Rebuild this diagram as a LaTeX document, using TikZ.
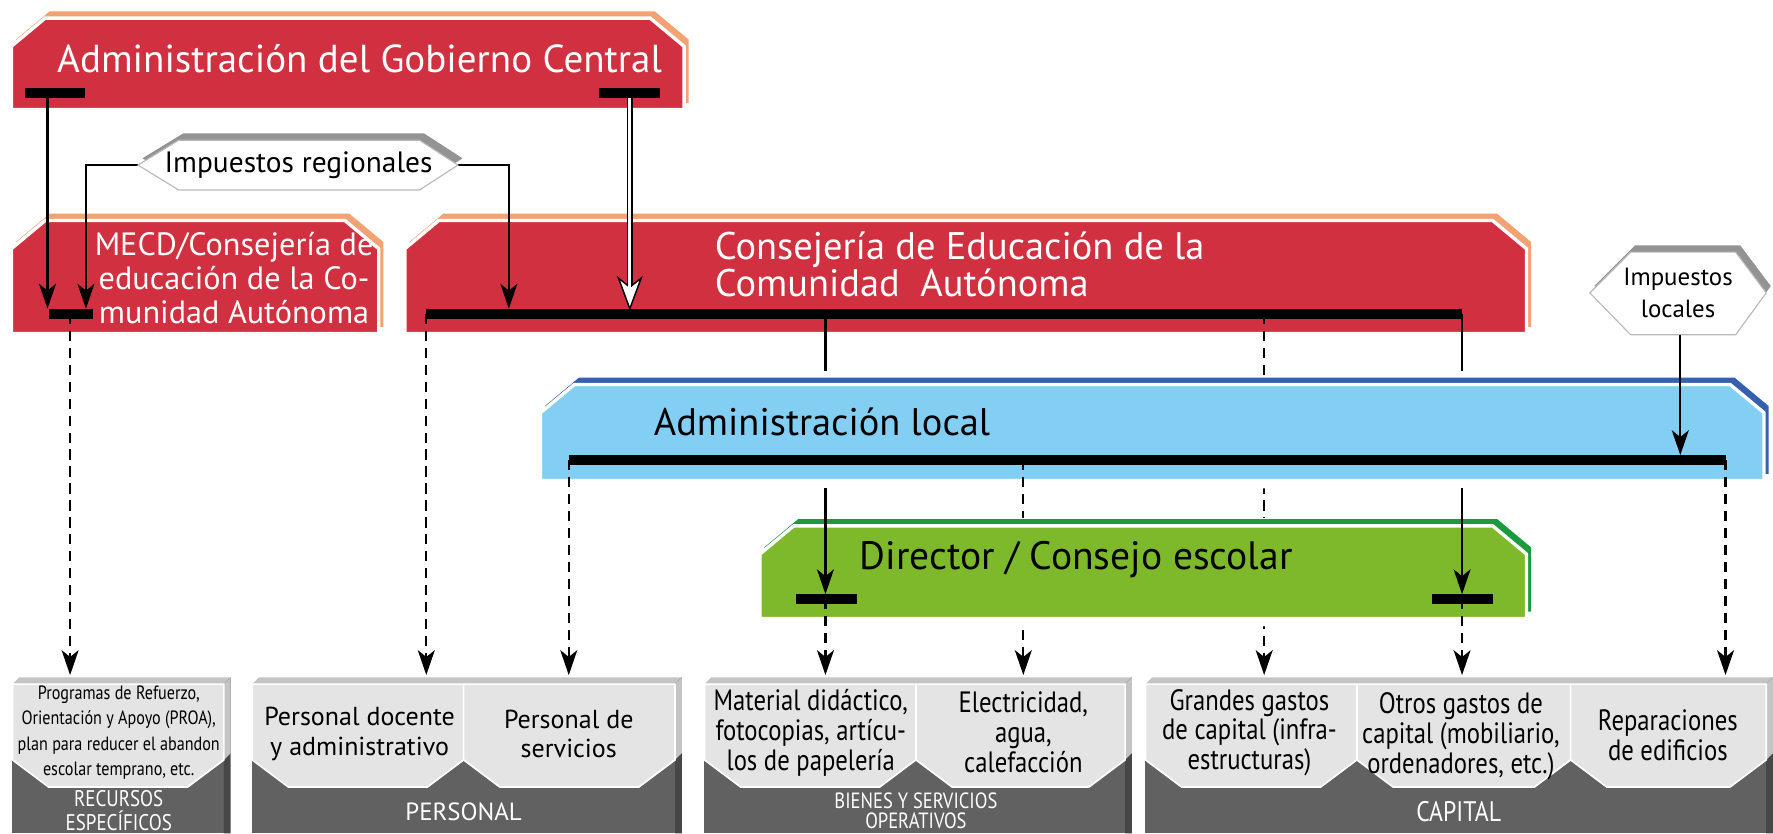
\documentclass[tikz,border=0pt]{standalone}
\usepackage{fontspec}
\setmainfont{PT Sans}
\newfontfamily\narrowfont[FakeStretch=0.84]{PT Sans}
\usetikzlibrary{arrows.meta}

\definecolor{gobred}{HTML}{D13040}
\definecolor{gobedge}{HTML}{F3A273}
\definecolor{locblue}{HTML}{83CFF4}
\definecolor{locedge}{HTML}{3560AD}
\definecolor{dirgreen}{HTML}{7DB92A}
\definecolor{diredge}{HTML}{1C9A3E}
\definecolor{grpdark}{HTML}{616161}
\definecolor{grplight}{HTML}{E4E4E4}
\definecolor{grptop}{HTML}{C4C4C4}
\definecolor{grpside}{HTML}{474747}

\begin{document}
\begin{tikzpicture}[x=1pt, y=-1pt, >={Stealth[length=22pt, width=15pt, inset=6pt]}]
    \useasboundingbox (0,0) rectangle (1568,737);

    \tikzset{
        flow/.style = {line width=2pt},
        dflow/.style = {line width=2pt, dash pattern=on 9pt off 6pt},
        bar/.style = {line width=9pt},
        hdr/.style n args = {4}{insert path={(#1,#4) -- (#1,#2+25) -- (#1+30,#2) -- (#3-30,#2) -- (#3,#2+25) -- (#3,#4) -- cycle}},
        lift/.style = {shift={(4,-6)}},
        face/.style = {draw=white, line width=3pt},
        halo/.style = {draw=white, line width=14pt, line join=round},
        hexa/.style = {fill=white, draw=gray!55, line width=1pt},
        panel/.style = {fill=grplight, draw=white, line width=1.5pt},
        bigtext/.style = {font=\fontsize{34}{31}\selectfont, align=left, inner sep=0pt},
        boxtext/.style = {font=\fontsize{23}{26}\selectfont, align=center},
        narrowtext/.style = {font=\narrowfont\fontsize{26}{26.5}\selectfont, align=center},
        grouptext/.style = {text=white, align=center},
    }

    % bottom groups
    \foreach \xa/\xb in {11/198, 223/597, 623/995, 1013/1562}{
        \fill[grpdark] (\xa,605) rectangle (\xb,737);
        \fill[grptop] (\xa,605) -- (\xa+6,599) -- (\xb+6,599) -- (\xb,605) -- cycle;
        \fill[grpside] (\xb,605) -- (\xb+6,599) -- (\xb+6,737) -- (\xb,737) -- cycle;
        \fill[grptop] (\xb,605) -- (\xb+6,599) -- (\xb+6,666) -- (\xb,672) -- cycle;
    }
    \foreach \xa/\xb in {11/198, 223/410, 410/597, 623/810, 810/995, 1013/1200, 1200/1389, 1389/1562}{
        \filldraw[panel] (\xa,605) -- (\xb,605) -- (\xb,672) -- (\xb-32,696) -- (\xa+32,696) -- (\xa,672) -- cycle;
    }

    \node[font=\narrowfont\fontsize{17}{22.5}\selectfont, align=center] (rec) at (105,648)
        {Programas de Refuerzo,\\Orientación y Apoyo (PROA),\\plan para reducer el abandon\\escolar temprano, etc.};
    \node[boxtext] (pdoc) at (318,649) {Personal docente\\y administrativo};
    \node[boxtext] (pser) at (503,649) {Personal de\\servicios};
    \node[narrowtext] (mat) at (717,648) {Material didáctico,\\fotocopias, artícu-\\los de papelería};
    \node[narrowtext] (elec) at (905,648) {Electricidad,\\agua,\\calefacción};
    \node[narrowtext] (ggc) at (1105,648) {Grandes gastos\\de capital (infra-\\estructuras)};
    \node[narrowtext] (ogc) at (1292,651) {Otros gastos de\\capital (mobiliario,\\ordenadores, etc.)};
    \node[narrowtext] (repa) at (1475,650) {Reparaciones\\de edificios};

    \node[grouptext, font=\narrowfont\fontsize{20}{21}\selectfont] (lrec) at (105,717) {RECURSOS\\ESPECÍFICOS};
    \node[grouptext, font=\fontsize{22}{24}\selectfont] (lper) at (410,718) {PERSONAL};
    \node[grouptext, font=\narrowfont\fontsize{19.5}{17}\selectfont] (lbie) at (810,717) {BIENES Y SERVICIOS\\OPERATIVOS};
    \node[grouptext, font=\narrowfont\fontsize{25}{24}\selectfont] (lcap) at (1290,718) {CAPITAL};

    % regional boxes
    \foreach \xa/\ya/\xb/\yb in {10/16/605/97, 10/195/335/295, 358/195/1350/295}{
        \fill[gobedge, lift, hdr={\xa}{\ya}{\xb}{\yb}];
        \filldraw[fill=gobred, face, hdr={\xa}{\ya}{\xb}{\yb}];
    }
    \node[white, font=\fontsize{34.5}{38}\selectfont] (agct) at (318,52) {Administración del Gobierno Central};
    \node[white, font=\fontsize{28.5}{30}\selectfont, align=center] (mecdt) at (207,246)
        {MECD/Consejería de\\educación de la Co-\\munidad Autónoma};
    \node[white, bigtext, anchor=west] (cet) at (632,234) {Consejería de Educación de la\\Comunidad~ Autónoma};

    \coordinate (imrW) at (122,146);
    \coordinate (imrE) at (405,146);
    \coordinate (agcL) at (42,82);
    \coordinate (agcR) at (557,82);
    \coordinate (mecdA) at (42,273);
    \coordinate (mecdB) at (76,273);
    \coordinate (mecdD) at (62,277.5);
    \coordinate (recT) at (62,597);
    \coordinate (ceA) at (450,273);
    \coordinate (ceB) at (557,273);
    \coordinate (ceBs) at (557,256);
    \coordinate (ceD1) at (377,277.5);
    \coordinate (ceD2) at (730,277.5);
    \coordinate (ceD3) at (1118,277.5);
    \coordinate (ceD4) at (1293,277.5);
    \coordinate (pdocT) at (377,597);
    \coordinate (ggcT) at (1118,597);
    \coordinate (alTop1) at (730,328);
    \coordinate (alTop2) at (1293,328);

    \draw[flow, ->] (agcL) -- (mecdA);
    \draw[flow, ->] (imrW) -| (mecdB);
    \draw[flow, ->] (imrE) -| (ceA);
    % transfer arrow
    \draw[line width=5.5pt] (agcR) -- (ceBs);
    \filldraw[fill=white, line width=1.3pt] (ceB) -- (547,246) -- (557,254) -- (567,246) -- cycle;
    \draw[white, line width=2.5pt] (agcR) -- ([yshift=-1pt]ceBs);

    \draw[dflow, ->] (mecdD) -- (recT);
    \draw[dflow, ->] (ceD1) -- (pdocT);
    \draw[dflow, ->] (ceD3) -- (ggcT);
    \draw[flow] (ceD2) -- (alTop1);
    \draw[flow] (ceD4) -- (alTop2);

    \draw[bar] (22,82) -- (75,82);
    \draw[bar] (530,82) -- (584,82);
    \draw[bar] (43,277.5) -- (82,277.5);
    \draw[bar] (377,277.5) -- (1293,277.5);

    \fill[gray!85, lift] (122,146) -- (158,124) -- (371,124) -- (405,146) -- (371,168) -- (158,168) -- cycle;
    \filldraw[hexa] (122,146) -- (158,124) -- (371,124) -- (405,146) -- (371,168) -- (158,168) -- cycle;
    \node[font=\fontsize{26}{28}\selectfont] (imr) at (264,146) {Impuestos regionales};

    % local administration
    \draw[halo, hdr={478}{340}{1560}{425}];
    \fill[locedge, lift, hdr={478}{340}{1560}{425}];
    \filldraw[fill=locblue, face, hdr={478}{340}{1560}{425}];
    \node[bigtext, anchor=west] (alt) at (578,373) {Administración local};

    \fill[gray!85, lift] (1406,259) -- (1442,223) -- (1535,223) -- (1562,259) -- (1535,296) -- (1442,296) -- cycle;
    \filldraw[hexa] (1406,259) -- (1442,223) -- (1535,223) -- (1562,259) -- (1535,296) -- (1442,296) -- cycle;
    \node[font=\fontsize{22}{28}\selectfont, align=center] (iml) at (1484,259) {Impuestos\\locales};

    \coordinate (imlS) at (1486,296);
    \coordinate (alIn) at (1486,402.5);
    \coordinate (alD1) at (503,407);
    \coordinate (alD2) at (905,407);
    \coordinate (alD3) at (1526,407);
    \coordinate (pserT) at (503,597);
    \coordinate (elecT) at (905,597);
    \coordinate (repaT) at (1526,597);

    \draw[flow, ->] (imlS) -- (alIn);
    \draw[dflow, ->] (alD1) -- (pserT);
    \draw[dflow, ->] (alD2) -- (elecT);
    \draw[dflow, ->] (alD3) -- (repaT);
    \draw[bar] (503,407) -- (1526,407);

    % school board
    \draw[halo, hdr={672}{465}{1350}{547}];
    \fill[diredge, lift, hdr={672}{465}{1350}{547}];
    \filldraw[fill=dirgreen, face, hdr={672}{465}{1350}{547}];
    \node[font=\fontsize{35}{31}\selectfont, inner sep=0pt, anchor=west] (dct) at (760,495) {Director / Consejo escolar};

    \coordinate (alBot1) at (730,432);
    \coordinate (alBot2) at (1293,432);
    \coordinate (dcIn1) at (730,525.5);
    \coordinate (dcIn2) at (1293,525.5);
    \coordinate (dcD1) at (730,530);
    \coordinate (dcD2) at (1293,530);
    \coordinate (matT) at (730,597);
    \coordinate (ogcT) at (1293,597);

    \draw[flow, ->] (alBot1) -- (dcIn1);
    \draw[flow, ->] (alBot2) -- (dcIn2);
    \draw[dflow, ->] (dcD1) -- (matT);
    \draw[dflow, ->] (dcD2) -- (ogcT);
    \draw[bar] (704,530) -- (758,530);
    \draw[bar] (1266,530) -- (1320,530);

\end{tikzpicture}
\end{document}
